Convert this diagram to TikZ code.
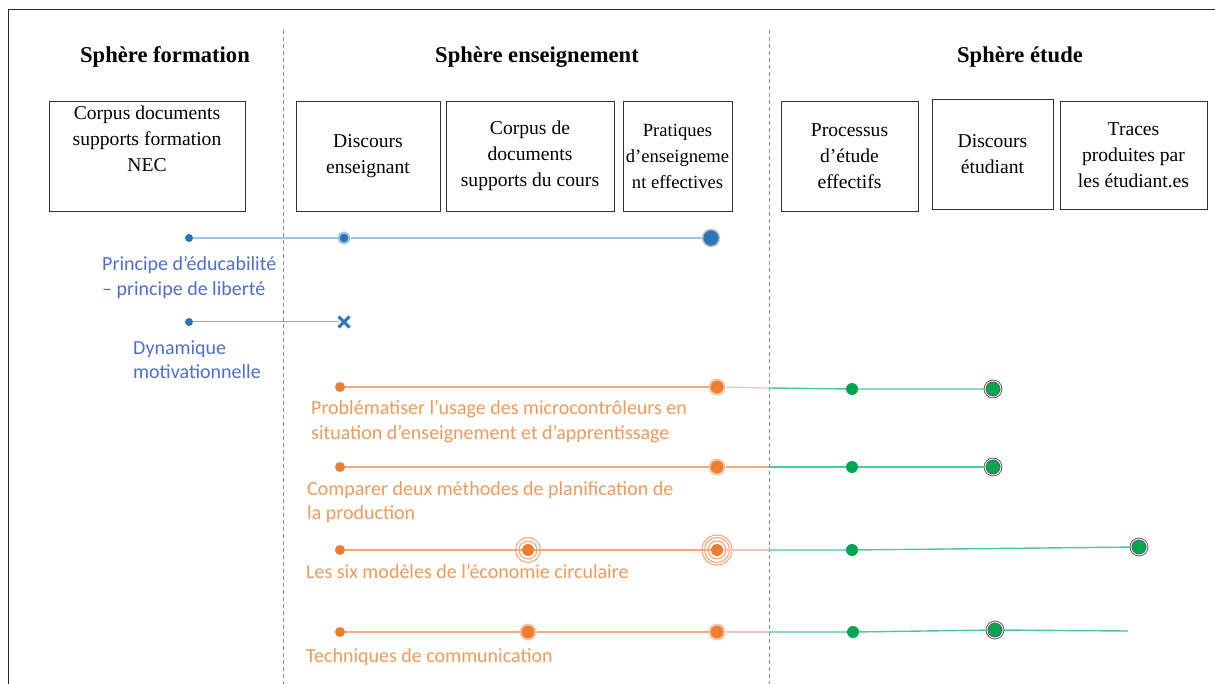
\documentclass[tikz,border=0pt]{standalone}
\usepackage{fontspec}
\setmainfont{Liberation Serif}
\newfontfamily\lab{Carlito}
\usetikzlibrary{shapes.misc}
\definecolor{bl}{HTML}{2E75B6}
\definecolor{bltxt}{HTML}{4F6FD0}
\definecolor{blline}{HTML}{9DC3E6}
\definecolor{or}{HTML}{ED7D31}
\definecolor{ortxt}{HTML}{F09A5C}
\definecolor{orline}{HTML}{F4A878}
\definecolor{orpink}{HTML}{F6A6A0}
\definecolor{gr}{HTML}{00A651}
\definecolor{grline}{HTML}{4CC89A}
\tikzset{
  title/.style={font=\fontsize{22.6}{26}\selectfont\bfseries},
  box/.style={draw=black!80, line width=0.9pt, align=center,
              font=\fontsize{19.6}{26}\selectfont, inner sep=0pt},
  lbl/.style={font=\lab\fontsize{20}{24.5}\selectfont, anchor=west, align=left, inner sep=0pt},
  bdot/.style={circle, fill=bl, inner sep=0pt, minimum size=8pt},
  bring/.style={circle, fill=bl, draw=blline, line width=2pt, inner sep=0pt, minimum size=13pt},
  odot/.style={circle, fill=or, inner sep=0pt, minimum size=10pt},
  ohalo/.style={circle, fill=or, draw=or!45, line width=2pt, inner sep=0pt, minimum size=15pt},
  gdot/.style={circle, fill=gr, inner sep=0pt, minimum size=12pt},
  gring/.style={circle, fill=gr, draw=black!60, double=white, double distance=0.8pt, line width=1pt, inner sep=0pt, minimum size=16pt},
  sep/.style={draw=black!45, dashed, dash pattern=on 4pt off 3pt, line width=0.6pt},
  bline/.style={draw=blline, line width=1.2pt},
  oline/.style={draw=orline, line width=1.2pt},
  gline/.style={draw=grline, line width=1.4pt},
}
\begin{document}
\begin{tikzpicture}[x=1pt,y=-1pt]
\useasboundingbox (0,0) rectangle (1215,684);
\fill[white] (0,0) rectangle (1215,684);
% frame
\draw[black!85, line width=1.6pt] (8.5,684) -- (8.5,9.5) -- (1215,9.5);
% separators
\coordinate (s1t) at (283,30); \coordinate (s1b) at (283,684);
\coordinate (s2t) at (769,30); \coordinate (s2b) at (769,684);
\draw[sep] (s1t) -- (s1b);
\draw[sep] (s2t) -- (s2b);
% titles
\node[title] (t1) at (165,57) {Sphère formation};
\node[title] (t2) at (537,57) {Sphère enseignement};
\node[title] (t3) at (1020,57) {Sphère étude};
% boxes
\node[box, minimum width=196pt, minimum height=110pt] (k1) at (147,156) {Corpus documents\\supports formation\\NEC\\\strut};
\node[box, minimum width=144pt, minimum height=110pt] (k2) at (368,156) {Discours\\enseignant};
\node[box, minimum width=168pt, minimum height=110pt] (k3) at (530,156) {Corpus de\\documents\\supports du cours};
\node[box, minimum width=109pt, minimum height=110pt, font=\fontsize{18.6}{26}\selectfont] (k4) at (677.5,156) {Pratiques\\d’enseigneme\\nt effectives};
\node[box, minimum width=137pt, minimum height=110pt] (k5) at (849.5,156) {Processus\\d’étude\\effectifs};
\node[box, minimum width=121pt, minimum height=110pt] (k6) at (992.5,154) {Discours\\étudiant};
\node[box, minimum width=147pt, minimum height=108pt] (k7) at (1133.5,155) {Traces\\produites par\\les étudiant.es};
% row 1 (blue)
\node[bdot] (a1) at (189,238) {};
\node[bring, minimum size=11pt] (a2) at (344,238) {};
\node[bring, draw=black!25, line width=1.5pt, minimum size=17pt] (a3) at (711,238) {};
\draw[bline] (a1) -- (a2) -- (a3);
\node[lbl, text=bltxt] (la) at (102,277.5) {Principe d’éducabilité\\– principe de liberté};
% row 2 (blue)
\node[bdot] (b1) at (189,322) {};
\node[cross out, draw=bl, line width=3pt, minimum size=8pt, inner sep=0pt] (b2) at (344,322) {};
\draw[draw=black!35, line width=1pt] (b1) -- (b2);
\node[lbl, text=bltxt] (lb) at (133,359.5) {Dynamique\\motivationnelle};
% row 3
\node[odot] (c1) at (340,387) {};
\node[ohalo] (c2) at (717,387) {};
\coordinate (cx) at (769,388);
\node[gdot] (c3) at (852,389) {};
\node[gring] (c4) at (993,389) {};
\draw[oline] (c1) -- (c2);
\draw[draw=orpink!70, line width=1.2pt] (c2) -- (cx);
\draw[gline] (cx) -- (c3) -- (c4);
\node[lbl, text=ortxt] (lc) at (311,421.5) {Problématiser l’usage des microcontrôleurs en\\situation d’enseignement et d’apprentissage};
% row 4
\node[odot] (d1) at (340,467) {};
\node[ohalo] (d2) at (717,467) {};
\coordinate (dx) at (769,467);
\node[gdot] (d3) at (852,467) {};
\node[gring] (d4) at (993,467) {};
\draw[oline, line width=1.5pt] (d1) -- (d2) -- (dx);
\draw[gline] (dx) -- (d3) -- (d4);
\node[lbl, text=ortxt] (ld) at (307,502) {Comparer deux méthodes de planification de\\la production};
% row 5
\node[odot] (e1) at (340,550) {};
\node[odot, minimum size=12pt] (e2) at (528,550) {};
\node[odot, minimum size=12pt] (e3) at (717,550) {};
\draw[or!70, line width=1pt] (e2.center) circle (9pt) (e2.center) circle (12.5pt);
\draw[or!70, line width=1pt] (e3.center) circle (9pt) (e3.center) circle (12.5pt) (e3.center) circle (15pt);
\coordinate (ex) at (769,550);
\node[gdot] (e4) at (852,550) {};
\node[gring] (e5) at (1139,547) {};
\draw[oline] (e1) -- (e2) -- (e3);
\draw[draw=orpink!70, line width=1.2pt] (e3) -- (ex);
\draw[gline] (ex) -- (e4) -- (e5);
\node[lbl, text=ortxt] (le) at (306,572) {Les six modèles de l’économie circulaire};
% row 6
\node[odot] (f1) at (340,632) {};
\node[ohalo] (f2) at (528,632) {};
\node[ohalo] (f3) at (717,632) {};
\coordinate (fx) at (769,632);
\node[gdot] (f4) at (853,632) {};
\node[gring] (f5) at (995,630) {};
\coordinate (fend) at (1128,631);
\draw[oline] (f1) -- (f2) -- (f3);
\draw[draw=orpink!70, line width=1.2pt] (f3) -- (fx);
\draw[gline] (fx) -- (f4) -- (f5) -- (fend);
\node[lbl, text=ortxt] (lf) at (306,657) {Techniques de communication};
\end{tikzpicture}
\end{document}
